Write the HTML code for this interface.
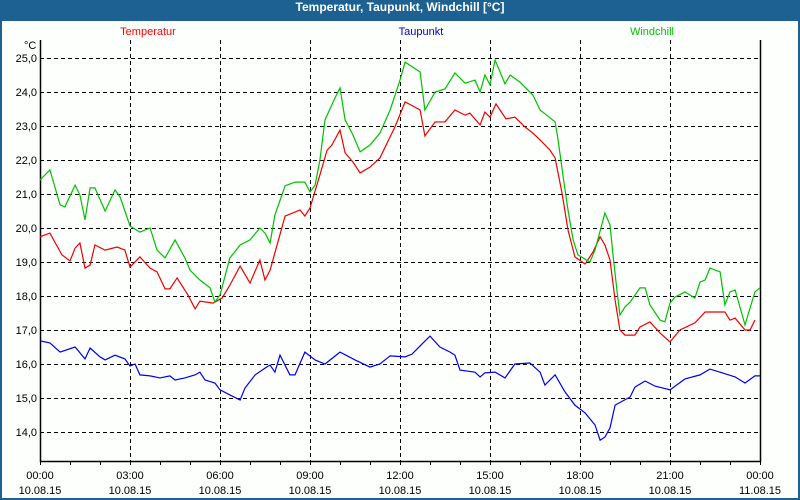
<!DOCTYPE html>
<html><head><meta charset="utf-8"><style>
html,body{margin:0;padding:0;background:#fff}
#wrap{position:relative;width:800px;height:500px;background:#1d6192;overflow:hidden}
#inner{position:absolute;left:2px;top:21px;width:796px;height:477px;background:#fcfffc}
#title{position:absolute;left:0;top:0;width:800px;height:21px;line-height:21px;text-align:center;color:#fff;font:bold 12px "Liberation Sans",sans-serif}
svg{position:absolute;left:0;top:0}
text{font-family:"Liberation Sans",sans-serif;font-size:11px}
</style></head><body>
<div id="wrap">
<div id="title">Temperatur, Taupunkt, Windchill [°C]</div>
<div id="inner"></div>
<svg id="chart" width="800" height="500"></svg>
</div>
<script>
const yTicks=[14,15,16,17,18,19,20,21,22,23,24,25];
const xTickHours=[0,3,6,9,12,15,18,21,24];
const xTickTimes=["00:00","03:00","06:00","09:00","12:00","15:00","18:00","21:00","00:00"];
const xTickDates=["10.08.15","10.08.15","10.08.15","10.08.15","10.08.15","10.08.15","10.08.15","10.08.15","11.08.15"];
const tempHours=[0,.33,.73,1,1.17,1.33,1.5,1.67,1.83,2.17,2.57,2.83,3,3.33,3.67,3.9,4.17,4.33,4.57,4.93,5.17,5.33,5.77,6.07,6.33,6.67,7,7.33,7.5,7.67,8.17,8.67,8.83,9,9.33,9.57,9.73,10,10.17,10.43,10.67,11,11.33,11.67,11.83,12.17,12.67,12.83,13.17,13.5,13.83,14.17,14.33,14.67,14.83,15,15.2,15.53,15.83,16.17,16.43,16.67,17,17.17,17.4,17.6,17.83,18.17,18.43,18.67,18.83,19,19.17,19.33,19.5,19.83,20,20.33,20.67,21,21.33,21.83,22.17,22.83,23,23.17,23.5,23.67,23.83];
const tempValues=[19.74,19.85,19.21,19.03,19.41,19.56,18.82,18.91,19.5,19.35,19.44,19.35,18.85,19.15,18.82,18.71,18.21,18.21,18.53,18.03,17.62,17.85,17.79,17.94,18.32,18.88,18.38,19.06,18.47,18.76,20.35,20.53,20.35,20.59,21.56,22.29,22.44,22.88,22.21,21.94,21.62,21.79,22.06,22.68,22.97,23.71,23.47,22.71,23.12,23.12,23.47,23.32,23.38,23.03,23.41,23.26,23.65,23.21,23.26,22.97,22.79,22.59,22.29,22.06,21.03,19.94,19.15,18.94,19.29,19.74,19.5,19.06,17.88,17,16.85,16.85,17.09,17.24,16.91,16.65,17,17.21,17.53,17.53,17.29,17.35,17,17,17.29];
const windHours=[0,.33,.67,.83,1.17,1.33,1.5,1.67,1.83,2.17,2.5,2.67,3,3.33,3.67,3.9,4.17,4.5,4.83,5,5.33,5.67,5.83,6,6.33,6.67,7,7.33,7.5,7.67,7.83,8.17,8.5,8.83,9,9.17,9.33,9.5,9.83,10,10.17,10.43,10.67,11,11.33,11.67,12,12.17,12.67,12.83,13.17,13.5,13.83,14.17,14.5,14.67,14.83,15,15.17,15.5,15.67,16,16.43,16.67,17,17.17,17.27,17.43,17.6,17.77,17.93,18.33,18.5,18.83,19,19.1,19.23,19.33,19.5,19.67,20,20.17,20.33,20.67,20.83,21,21.17,21.5,21.83,22,22.17,22.33,22.67,22.83,23,23.17,23.5,23.83,24];
const windValues=[21.41,21.71,20.68,20.62,21.26,20.97,20.24,21.18,21.18,20.5,21.12,20.91,20.06,19.88,20,19.35,19.12,19.65,19.12,18.76,18.47,18.24,17.82,18.03,19.12,19.5,19.65,20,19.85,19.56,20.38,21.24,21.35,21.35,21.06,21.26,22,23.18,23.82,24.12,23.18,22.74,22.24,22.44,22.79,23.47,24.35,24.88,24.59,23.47,24,24.09,24.56,24.26,24.35,24,24.5,24.21,24.94,24.24,24.5,24.29,23.91,23.47,23.24,23.12,22.59,21.56,20.53,19.65,19.21,19,19.35,20.44,20.09,19.21,18.18,17.44,17.68,17.82,18.24,18.24,17.74,17.29,17.24,17.79,17.97,18.12,17.94,18.41,18.47,18.82,18.71,17.74,18.12,18.18,17.15,18.12,18.24];
const dewHours=[0,.33,.67,1.17,1.5,1.67,2,2.17,2.5,2.83,3,3.17,3.33,3.67,4,4.33,4.5,4.83,5.17,5.33,5.5,5.83,6,6.33,6.67,6.83,7.17,7.5,7.67,7.83,8,8.33,8.5,8.83,9.17,9.5,10,10.5,11,11.33,11.67,12.17,12.4,12.67,13,13.33,13.67,13.83,14,14.5,14.67,14.83,15.17,15.5,15.83,16.33,16.67,16.83,17.17,17.5,17.83,18.17,18.5,18.67,18.83,19,19.17,19.67,19.83,20.17,20.5,21,21.5,22,22.33,22.67,23.17,23.5,23.83,24];
const dewValues=[16.68,16.62,16.35,16.5,16.15,16.47,16.21,16.12,16.26,16.15,15.94,16,15.68,15.65,15.59,15.65,15.53,15.59,15.68,15.76,15.53,15.44,15.24,15.09,14.94,15.29,15.68,15.88,15.97,15.76,16.26,15.68,15.68,16.35,16.12,16,16.35,16.12,15.91,16,16.24,16.21,16.29,16.53,16.82,16.5,16.35,16.26,15.82,15.76,15.62,15.74,15.76,15.59,16,16.03,15.76,15.38,15.68,15.18,14.79,14.56,14.21,13.76,13.85,14.12,14.79,15.03,15.32,15.5,15.35,15.24,15.56,15.68,15.85,15.76,15.62,15.44,15.65,15.65];

const NS="http://www.w3.org/2000/svg";
const svg=document.getElementById('chart');
const L=40,R=760,T=40,B=461;
const xs=h=>L+h*30;
const ys=v=>58+(25-v)*34;
function mk(tag,attrs,parent){const e=document.createElementNS(NS,tag);for(const k in attrs)e.setAttribute(k,attrs[k]);(parent||svg).appendChild(e);return e;}
// grid
yTicks.forEach(v=>{
  const g=mk('line',{x1:L,x2:R,y1:ys(v)+.5,y2:ys(v)+.5,stroke:'#000','stroke-dasharray':'4,3','stroke-width':1});
  
  
  const t=mk('text',{x:37,y:ys(v)+4,'text-anchor':'end',fill:'#000'});
  t.textContent=v.toFixed(1).replace('.',',');
  
  
});
xTickHours.forEach((h,i)=>{
  if(h>0&&h<24){
    const g=mk('line',{x1:xs(h)+.5,x2:xs(h)+.5,y1:T,y2:B,stroke:'#000','stroke-dasharray':'4,3','stroke-width':1});
    
    
  }
  const t1=mk('text',{x:xs(h),y:479,'text-anchor':'middle',fill:'#000'});
  t1.textContent=xTickTimes[i];
  
  
  const t2=mk('text',{x:xs(h),y:494,'text-anchor':'middle',fill:'#000'});
  t2.textContent=xTickDates[i];
  
  
});
for(let h=0;h<=24;h++){
  const tk=mk('line',{x1:xs(h)+.5,x2:xs(h)+.5,y1:B,y2:B+4,stroke:'#000'});
  
  
}
const frame=mk('path',{d:`M${L+.5},${T} V${B+.5} H${R+.5} V${T}`,fill:'none',stroke:'#000','stroke-width':1.5});


const unit=mk('text',{x:24,y:49,fill:'#000'});
unit.textContent='°C';


function series(hs,vs,color,name){
  const p=mk('polyline',{points:hs.map((h,i)=>xs(h)+','+ys(vs[i])).join(' '),fill:'none',stroke:color,'stroke-width':1.2});
  
  
}
series(dewHours,dewValues,'#0000ee','taupunkt-line');
series(tempHours,tempValues,'#ee0000','temperatur-line');
series(windHours,windValues,'#00c000','windchill-line');
const legends=[['Temperatur','#ff0000',148],['Taupunkt','#0000cc',421],['Windchill','#00c000',652]];
legends.forEach(l=>{
  const t=mk('text',{x:l[2],y:35,'text-anchor':'middle',fill:l[1]});
  t.textContent=l[0];
  
  
});
</script>
</body></html>
